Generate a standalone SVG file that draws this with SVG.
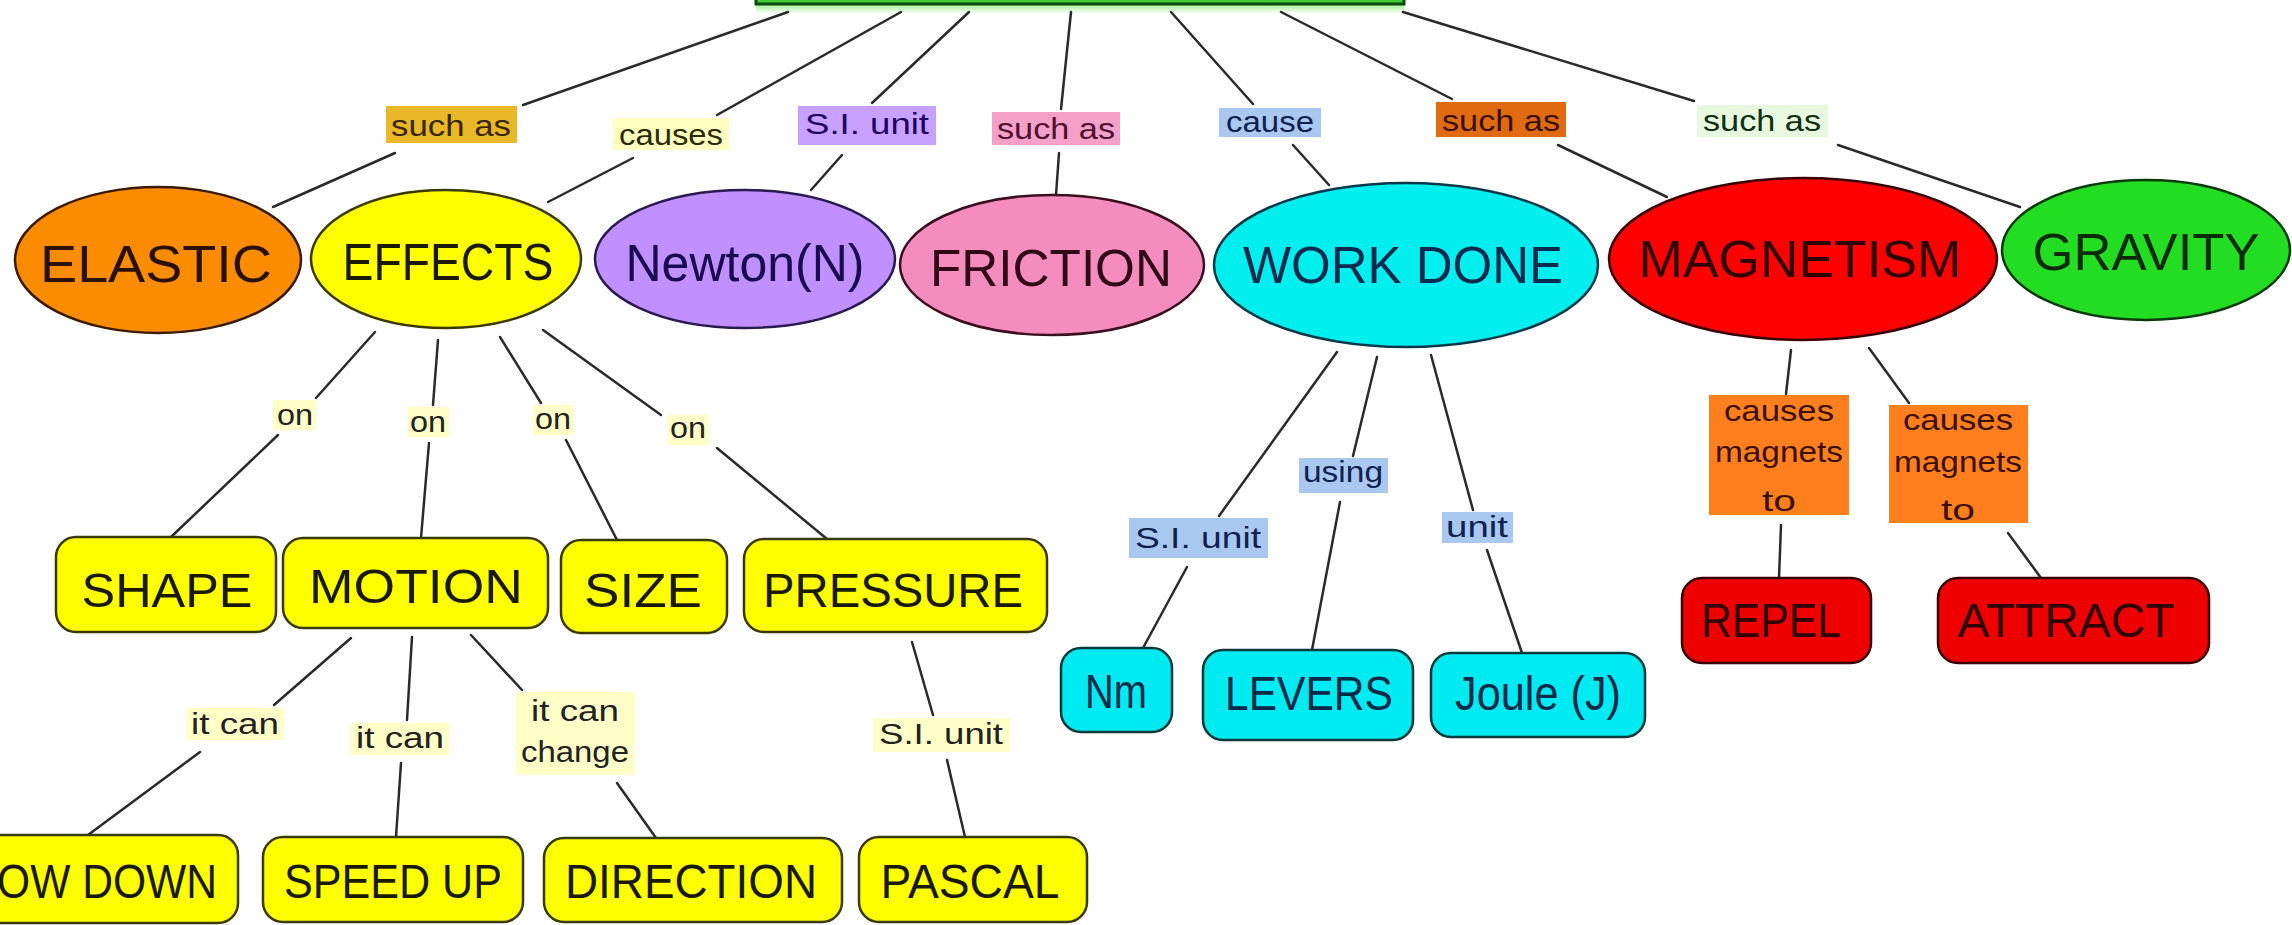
<svg xmlns="http://www.w3.org/2000/svg" width="2292" height="925" viewBox="0 0 2292 925">
<defs>
<linearGradient id="glow" x1="0" y1="0" x2="0" y2="1">
<stop offset="0" stop-color="#9fee8f"/>
<stop offset="1" stop-color="#ffffff"/>
</linearGradient>
<style>
.ln{stroke:#2a2a2a;stroke-width:2.5;fill:none;stroke-linecap:round}
.nt{font-family:"Liberation Sans",Arial,sans-serif;font-size:52px;text-anchor:middle}
.bt{font-family:"Liberation Sans",Arial,sans-serif;font-size:48px;text-anchor:middle}
.lt{font-family:"Liberation Sans",Arial,sans-serif;font-size:30px;text-anchor:middle}
.ell{stroke-width:2.5}
.yb{fill:#ffff00;stroke:#3a3a00;stroke-width:2.5}
.cb{fill:#00eaf2;stroke:#0a3a3a;stroke-width:2.5}
.rb{fill:#ee0000;stroke:#3a0000;stroke-width:2.5}
.ytx{fill:#1a1a00}
.ctx{fill:#0a2a4a}
.rtx{fill:#300000}
.lbon{fill:#ffffc8}
.lbblue{fill:#a8c8f0}
.lbor{fill:#ff7f1e}
</style>
</defs>
<rect width="2292" height="925" fill="#ffffff"/>

<g id="root">
<rect x="756" y="4" width="648" height="10" fill="url(#glow)"/>
<rect x="756" y="-40" width="648" height="44" fill="#44cc33" stroke="#0a4a0a" stroke-width="3"/>
</g>

<g id="connectors">
<line class="ln" x1="788" y1="12" x2="523" y2="105"/><line class="ln" x1="395" y1="153" x2="273" y2="207"/>
<line class="ln" x1="901" y1="12" x2="717" y2="115"/><line class="ln" x1="633" y1="158" x2="548" y2="202"/>
<line class="ln" x1="969" y1="12" x2="872" y2="103"/><line class="ln" x1="842" y1="155" x2="811" y2="190"/>
<line class="ln" x1="1071" y1="12" x2="1061" y2="109"/><line class="ln" x1="1059" y1="153" x2="1056" y2="195"/>
<line class="ln" x1="1171" y1="12" x2="1253" y2="104"/><line class="ln" x1="1293" y1="145" x2="1329" y2="185"/>
<line class="ln" x1="1281" y1="12" x2="1452" y2="99"/><line class="ln" x1="1558" y1="145" x2="1667" y2="197"/>
<line class="ln" x1="1403" y1="12" x2="1694" y2="101"/><line class="ln" x1="1838" y1="145" x2="2020" y2="207"/>

<line class="ln" x1="375" y1="332" x2="316" y2="398"/><line class="ln" x1="278" y1="435" x2="171" y2="537"/>
<line class="ln" x1="438" y1="340" x2="433" y2="405"/><line class="ln" x1="429" y1="443" x2="421" y2="538"/>
<line class="ln" x1="500" y1="337" x2="541" y2="403"/><line class="ln" x1="566" y1="440" x2="617" y2="540"/>
<line class="ln" x1="543" y1="330" x2="661" y2="415"/><line class="ln" x1="717" y1="448" x2="827" y2="539"/>

<line class="ln" x1="351" y1="638" x2="274" y2="705"/><line class="ln" x1="200" y1="752" x2="88" y2="835"/>
<line class="ln" x1="412" y1="637" x2="407" y2="720"/><line class="ln" x1="401" y1="763" x2="396" y2="837"/>
<line class="ln" x1="471" y1="635" x2="522" y2="690"/><line class="ln" x1="617" y1="783" x2="656" y2="838"/>
<line class="ln" x1="912" y1="642" x2="933" y2="715"/><line class="ln" x1="947" y1="760" x2="965" y2="837"/>

<line class="ln" x1="1337" y1="352" x2="1219" y2="516"/><line class="ln" x1="1187" y1="567" x2="1143" y2="648"/>
<line class="ln" x1="1377" y1="357" x2="1353" y2="456"/><line class="ln" x1="1340" y1="502" x2="1312" y2="650"/>
<line class="ln" x1="1431" y1="355" x2="1473" y2="510"/><line class="ln" x1="1487" y1="550" x2="1522" y2="653"/>

<line class="ln" x1="1791" y1="350" x2="1786" y2="394"/><line class="ln" x1="1781" y1="525" x2="1779" y2="578"/>
<line class="ln" x1="1869" y1="348" x2="1909" y2="403"/><line class="ln" x1="2008" y1="533" x2="2041" y2="578"/>
</g>

<g id="labels">
<g id="lbl-suchas-elastic"><rect x="386" y="106" width="131" height="37" fill="#e8b828"/><text class="lt" x="451" y="136" fill="#3a2600" textLength="120" lengthAdjust="spacingAndGlyphs">such as</text></g>
<g id="lbl-causes"><rect x="613" y="118" width="116" height="32" fill="#ffffc0"/><text class="lt" x="671" y="145" fill="#2a2a00" textLength="104" lengthAdjust="spacingAndGlyphs">causes</text></g>
<g id="lbl-si-newton"><rect x="798" y="106" width="138" height="39" fill="#c8a0ff"/><text class="lt" x="867" y="134" fill="#200060" textLength="124" lengthAdjust="spacingAndGlyphs">S.I. unit</text></g>
<g id="lbl-suchas-friction"><rect x="992" y="112" width="128" height="33" fill="#f4a0c8"/><text class="lt" x="1056" y="139" fill="#501030" textLength="118" lengthAdjust="spacingAndGlyphs">such as</text></g>
<g id="lbl-cause"><rect x="1219" y="108" width="102" height="29" fill="#a8c8f0"/><text class="lt" x="1270" y="132" fill="#102050" textLength="88" lengthAdjust="spacingAndGlyphs">cause</text></g>
<g id="lbl-suchas-magnetism"><rect x="1436" y="102" width="130" height="35" fill="#e06a10"/><text class="lt" x="1501" y="131" fill="#3a1000" textLength="118" lengthAdjust="spacingAndGlyphs">such as</text></g>
<g id="lbl-suchas-gravity"><rect x="1697" y="105" width="131" height="32" fill="#e8f8e0"/><text class="lt" x="1762" y="131" fill="#103010" textLength="118" lengthAdjust="spacingAndGlyphs">such as</text></g>

<g id="lbl-on1"><rect class="lbon" x="273" y="400" width="43" height="30"/><text class="lt" x="295" y="425" fill="#222" textLength="36" lengthAdjust="spacingAndGlyphs">on</text></g>
<g id="lbl-on2"><rect class="lbon" x="408" y="407" width="41" height="30"/><text class="lt" x="428" y="432" fill="#222" textLength="36" lengthAdjust="spacingAndGlyphs">on</text></g>
<g id="lbl-on3"><rect class="lbon" x="533" y="405" width="41" height="30"/><text class="lt" x="553" y="429" fill="#222" textLength="36" lengthAdjust="spacingAndGlyphs">on</text></g>
<g id="lbl-on4"><rect class="lbon" x="668" y="415" width="41" height="30"/><text class="lt" x="688" y="438" fill="#222" textLength="36" lengthAdjust="spacingAndGlyphs">on</text></g>

<g id="lbl-itcan1"><rect class="lbon" x="186" y="708" width="98" height="32"/><text class="lt" x="235" y="734" fill="#222" textLength="88" lengthAdjust="spacingAndGlyphs">it can</text></g>
<g id="lbl-itcan2"><rect class="lbon" x="351" y="723" width="98" height="32"/><text class="lt" x="400" y="748" fill="#222" textLength="88" lengthAdjust="spacingAndGlyphs">it can</text></g>
<g id="lbl-itcanchange"><rect class="lbon" x="516" y="692" width="119" height="83"/><text class="lt" x="575" y="721" fill="#222" textLength="88" lengthAdjust="spacingAndGlyphs">it can</text><text class="lt" x="575" y="762" fill="#222" textLength="108" lengthAdjust="spacingAndGlyphs">change</text></g>
<g id="lbl-si-pascal"><rect class="lbon" x="873" y="718" width="137" height="34"/><text class="lt" x="941" y="744" fill="#222" textLength="124" lengthAdjust="spacingAndGlyphs">S.I. unit</text></g>

<g id="lbl-si-nm"><rect class="lbblue" x="1129" y="518" width="139" height="40"/><text class="lt" x="1198" y="548" fill="#102050" textLength="126" lengthAdjust="spacingAndGlyphs">S.I. unit</text></g>
<g id="lbl-using"><rect class="lbblue" x="1299" y="458" width="89" height="35"/><text class="lt" x="1343" y="482" fill="#102050" textLength="80" lengthAdjust="spacingAndGlyphs">using</text></g>
<g id="lbl-unit"><rect class="lbblue" x="1442" y="512" width="71" height="31"/><text class="lt" x="1477" y="537" fill="#102050" textLength="62" lengthAdjust="spacingAndGlyphs">unit</text></g>

<g id="lbl-magnets1"><rect class="lbor" x="1709" y="395" width="140" height="120"/><text class="lt" x="1779" y="421" fill="#3a1000" textLength="110" lengthAdjust="spacingAndGlyphs">causes</text><text class="lt" x="1779" y="462" fill="#3a1000" textLength="128" lengthAdjust="spacingAndGlyphs">magnets</text><text class="lt" x="1779" y="511" fill="#3a1000" textLength="34" lengthAdjust="spacingAndGlyphs">to</text></g>
<g id="lbl-magnets2"><rect class="lbor" x="1889" y="405" width="139" height="118"/><text class="lt" x="1958" y="430" fill="#3a1000" textLength="110" lengthAdjust="spacingAndGlyphs">causes</text><text class="lt" x="1958" y="472" fill="#3a1000" textLength="128" lengthAdjust="spacingAndGlyphs">magnets</text><text class="lt" x="1958" y="520" fill="#3a1000" textLength="34" lengthAdjust="spacingAndGlyphs">to</text></g>
</g>

<g id="elastic"><ellipse class="ell" cx="158" cy="260" rx="143" ry="73" fill="#fb8c00" stroke="#3a1a00"/><text class="nt" x="156" y="282" fill="#2a1000" textLength="232" lengthAdjust="spacingAndGlyphs">ELASTIC</text></g>
<g id="effects"><ellipse class="ell" cx="446" cy="259" rx="135" ry="69" fill="#ffff00" stroke="#3a3a00"/><text class="nt" x="448" y="280" fill="#1a1a00" textLength="211" lengthAdjust="spacingAndGlyphs">EFFECTS</text></g>
<g id="newton"><ellipse class="ell" cx="745" cy="259" rx="150" ry="69" fill="#c090ff" stroke="#2a1a50"/><text class="nt" x="745" y="281" fill="#1a0a50" textLength="239" lengthAdjust="spacingAndGlyphs">Newton(N)</text></g>
<g id="friction"><ellipse class="ell" cx="1052" cy="265" rx="152" ry="70" fill="#f58cbe" stroke="#3a1020"/><text class="nt" x="1051" y="286" fill="#300818" textLength="242" lengthAdjust="spacingAndGlyphs">FRICTION</text></g>
<g id="workdone"><ellipse class="ell" cx="1406" cy="265" rx="192" ry="82" fill="#00eeee" stroke="#0a3a4a"/><text class="nt" x="1403" y="283" fill="#0a2a50" textLength="320" lengthAdjust="spacingAndGlyphs">WORK DONE</text></g>
<g id="magnetism"><ellipse class="ell" cx="1803" cy="259" rx="194" ry="81" fill="#ff0000" stroke="#3a0000"/><text class="nt" x="1800" y="277" fill="#300000" textLength="323" lengthAdjust="spacingAndGlyphs">MAGNETISM</text></g>
<g id="gravity"><ellipse class="ell" cx="2146" cy="250" rx="144" ry="70" fill="#22dd22" stroke="#0a3a0a"/><text class="nt" x="2146" y="270" fill="#0a2a0a" textLength="227" lengthAdjust="spacingAndGlyphs">GRAVITY</text></g>

<g id="shape"><rect class="yb" x="56" y="537" width="220" height="95" rx="20"/><text class="bt ytx" x="167" y="607" textLength="171" lengthAdjust="spacingAndGlyphs">SHAPE</text></g>
<g id="motion"><rect class="yb" x="283" y="538" width="265" height="90" rx="20"/><text class="bt ytx" x="416" y="603" textLength="214" lengthAdjust="spacingAndGlyphs">MOTION</text></g>
<g id="size"><rect class="yb" x="561" y="540" width="166" height="93" rx="20"/><text class="bt ytx" x="643" y="607" textLength="118" lengthAdjust="spacingAndGlyphs">SIZE</text></g>
<g id="pressure"><rect class="yb" x="744" y="539" width="303" height="93" rx="20"/><text class="bt ytx" x="893" y="607" textLength="260" lengthAdjust="spacingAndGlyphs">PRESSURE</text></g>

<g id="slowdown"><rect class="yb" x="-80" y="835" width="318" height="88" rx="20"/><text class="bt ytx" x="81" y="898" textLength="272" lengthAdjust="spacingAndGlyphs">SLOW DOWN</text></g>
<g id="speedup"><rect class="yb" x="263" y="837" width="260" height="85" rx="20"/><text class="bt ytx" x="393" y="898" textLength="218" lengthAdjust="spacingAndGlyphs">SPEED UP</text></g>
<g id="direction"><rect class="yb" x="544" y="838" width="298" height="84" rx="20"/><text class="bt ytx" x="691" y="898" textLength="252" lengthAdjust="spacingAndGlyphs">DIRECTION</text></g>
<g id="pascal"><rect class="yb" x="859" y="837" width="228" height="85" rx="20"/><text class="bt ytx" x="970" y="898" textLength="179" lengthAdjust="spacingAndGlyphs">PASCAL</text></g>

<g id="nm"><rect class="cb" x="1061" y="648" width="111" height="84" rx="20"/><text class="bt ctx" x="1116" y="708" font-size="44" textLength="62" lengthAdjust="spacingAndGlyphs">Nm</text></g>
<g id="levers"><rect class="cb" x="1203" y="650" width="210" height="90" rx="20"/><text class="bt ctx" x="1309" y="710" font-size="44" textLength="168" lengthAdjust="spacingAndGlyphs">LEVERS</text></g>
<g id="joule"><rect class="cb" x="1431" y="653" width="214" height="84" rx="20"/><text class="bt ctx" x="1538" y="710" font-size="44" textLength="166" lengthAdjust="spacingAndGlyphs">Joule (J)</text></g>

<g id="repel"><rect class="rb" x="1682" y="578" width="189" height="85" rx="20"/><text class="bt rtx" x="1771" y="637" font-size="46" textLength="140" lengthAdjust="spacingAndGlyphs">REPEL</text></g>
<g id="attract"><rect class="rb" x="1938" y="578" width="271" height="85" rx="20"/><text class="bt rtx" x="2066" y="637" font-size="46" textLength="217" lengthAdjust="spacingAndGlyphs">ATTRACT</text></g>
</svg>
